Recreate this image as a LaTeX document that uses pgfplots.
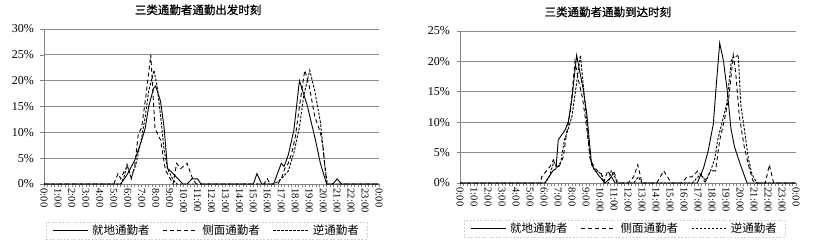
\documentclass[border=0pt]{standalone}
\usepackage{pgfplots}
\pgfplotsset{compat=1.18}
\usepackage{fontspec}
\setmainfont{Liberation Serif}
\newfontfamily\cjk{Noto Sans CJK SC}
\newfontfamily\cjkt[FakeBold=0.8]{Noto Sans CJK SC}

\definecolor{axgray}{RGB}{130,130,130}
\definecolor{gridgray}{RGB}{140,140,140}

\pgfplotsset{
  commonstyle/.style={
    scale only axis,
    xmin=0, xmax=24, ymin=0,
    clip=false,
    axis x line*=bottom, axis y line*=left,
    axis line style={axgray, line width=0.9pt},
    xtick={0,1,...,24},
    xticklabels={0:00,1:00,2:00,3:00,4:00,5:00,6:00,7:00,8:00,9:00,10:00,11:00,12:00,13:00,14:00,15:00,16:00,17:00,18:00,19:00,20:00,21:00,22:00,23:00,0:00},
    minor x tick num=3,
    tick align=outside,
    major tick length=3.5pt, minor tick length=3.5pt,
    every tick/.style={axgray, line width=0.6pt},
    xticklabel style={rotate=-90, anchor=west, font=\fontsize{10.5}{11}\selectfont, inner sep=1pt},
    yticklabel style={font=\fontsize{12}{12}\selectfont, xshift=-3pt},
    ymajorgrids, grid style={gridgray, line width=0.9pt},
    /pgf/number format/assume math mode=true,
    yticklabel={\pgfmathprintnumber{\tick}\%},
    title style={anchor=center, font=\cjkt\fontsize{11.5}{12}\selectfont},
    legend columns=3,
    legend cell align=left,
    legend style={draw=gray!35, dash pattern=on 2pt off 1.5pt, anchor=north,
      font=\cjk\fontsize{11.5}{12}\selectfont,
      inner xsep=6pt, inner ysep=1pt,
      nodes={inner sep=2pt},
      /tikz/every odd column/.append style={column sep=2pt},
      /tikz/every even column/.append style={column sep=11pt}},
    legend image code/.code={\draw (0pt,0pt) -- (35pt,0pt);},
  },
  s1/.style={black, solid, line width=0.9pt},
  s2/.style={black, line width=0.9pt, dash pattern=on 4pt off 3pt},
  s3/.style={black, line width=0.9pt, dash pattern=on 2.5pt off 1.5pt},
}

\begin{document}
\begin{tikzpicture}
\useasboundingbox (0,0) rectangle (817pt,246pt);

% ---------------- left: departure ----------------
\begin{axis}[commonstyle,
  at={(44pt,62pt)}, anchor=south west,
  width=335pt, height=155pt,
  ymax=30, ytick={0,5,...,30},
  title={三类通勤者通勤出发时刻},
  title style={at={(axis description cs:0.46,1.085)}},
  legend style={at={(axis description cs:0.485,-0.245)}},
]
\addplot[s1] coordinates {(0,0)(5.5,0)(6.0,2)(6.5,4.6)(7.0,8.5)(7.25,10.8)(7.5,15)(7.85,18.5)(8.0,19)(8.35,16)(8.6,11)(8.85,3)(9.0,2.7)(9.5,1.3)(9.95,0)(10.25,0)(10.6,1)(11.0,1)(11.25,0)(15.0,0)(15.25,2)(15.6,0)(16.45,0)(17.0,4)(17.2,3.4)(17.5,5.6)(17.9,10.4)(18.3,20)(18.85,15.3)(19.45,8.5)(19.8,4)(20.25,0)(20.7,0)(21.0,1)(21.3,0)(24,0)};
\addlegendentry{就地通勤者}
\addplot[s2] coordinates {(0,0)(5.0,0)(5.3,2)(5.5,1)(5.75,2.5)(6.0,3.5)(6.25,1.2)(6.5,3.5)(6.75,9.5)(7.0,11)(7.3,17)(7.65,25)(7.95,10.8)(8.35,8.5)(8.7,2.7)(9.25,0)(9.5,4)(9.8,3)(10.25,4)(10.65,1)(10.9,0)(15.75,0)(16.0,1)(16.2,0)(16.75,0)(17.0,1)(17.25,3)(17.5,4)(17.75,6)(18.0,9)(18.3,15)(18.68,22)(19.0,19)(19.4,13)(19.8,10)(20.0,7)(20.25,0)(24,0)};
\addlegendentry{侧面通勤者}
\addplot[s3] coordinates {(0,0)(5.5,0)(5.75,1.5)(5.95,3.8)(6.25,1)(6.6,4)(7.0,9)(7.25,13)(7.5,18)(7.88,22)(8.1,19)(8.36,13)(8.6,6.6)(8.85,3)(9.2,1)(9.5,0)(16.5,0)(17.0,1)(17.5,2.5)(17.9,6)(18.3,11)(18.6,17)(19.04,22)(19.4,18)(19.8,12)(20.1,4)(20.3,0)(24,0)};
\addlegendentry{逆通勤者}
\end{axis}

% ---------------- right: arrival ----------------
\begin{axis}[commonstyle,
  at={(460pt,63pt)}, anchor=south west,
  width=336pt, height=152pt,
  ymax=25, ytick={0,5,...,25},
  title={三类通勤者通勤到达时刻},
  title style={at={(axis description cs:0.44,1.086)}},
  legend style={at={(axis description cs:0.49,-0.243)}},
]
\addplot[s1] coordinates {(0,0)(6.05,0)(6.67,2.1)(6.85,2.3)(7.02,7.1)(7.5,8.7)(7.74,10.1)(8.0,14)(8.33,21)(8.81,15.3)(9.05,11.5)(9.4,3)(9.88,1.3)(10.36,0)(10.83,1)(11.07,0)(16.95,0)(17.4,2.5)(17.74,5.4)(18.1,9.8)(18.3,16)(18.55,23)(18.81,20.2)(19.1,15)(19.35,9)(19.6,6)(20.0,3.2)(20.5,0)(24,0)};
\addlegendentry{就地通勤者}
\addplot[s2] coordinates {(0,0)(5.75,0)(5.83,1)(6.43,2.7)(6.67,3.8)(7.02,2.4)(7.38,4.3)(7.6,8)(7.9,12)(8.21,20)(8.45,17)(8.75,14)(9.05,9)(9.3,4)(9.6,2.5)(9.85,2)(10.1,1.5)(10.3,0.3)(10.55,2)(10.8,1)(11.0,2)(11.2,0)(12.0,0)(12.4,1)(12.7,3)(13.0,0)(14.05,0)(14.55,2)(15.1,0)(15.85,0)(16.2,1)(16.55,1)(17.0,2)(17.3,1)(17.55,0.5)(17.9,2)(18.25,2)(18.55,7)(18.85,10)(19.2,14)(19.52,21)(19.7,18)(19.95,11)(20.3,6)(20.6,3)(20.9,0.5)(21.1,0)(21.8,0)(22.1,3)(22.4,0)(24,0)};
\addlegendentry{侧面通勤者}
\addplot[s3] coordinates {(0,0)(6.1,0)(6.4,1.2)(6.7,3.5)(6.95,2.5)(7.2,3.5)(7.45,7)(7.75,9)(8.0,11)(8.3,16)(8.6,21)(8.85,15)(9.1,9)(9.3,4)(9.6,2)(9.85,1.8)(10.1,1.5)(10.25,0)(10.6,0)(10.8,2)(11.05,1)(11.3,0)(12.4,0)(12.75,1)(13.0,0)(16.6,0)(17.0,1)(17.25,1.5)(17.5,0)(17.9,2)(18.2,4)(18.4,7)(18.7,9.8)(19.05,13)(19.4,20.5)(19.88,21)(20.05,13)(20.3,9)(20.6,4)(20.85,1.5)(21.2,0)(24,0)};
\addlegendentry{逆通勤者}
\end{axis}
\end{tikzpicture}
\end{document}
